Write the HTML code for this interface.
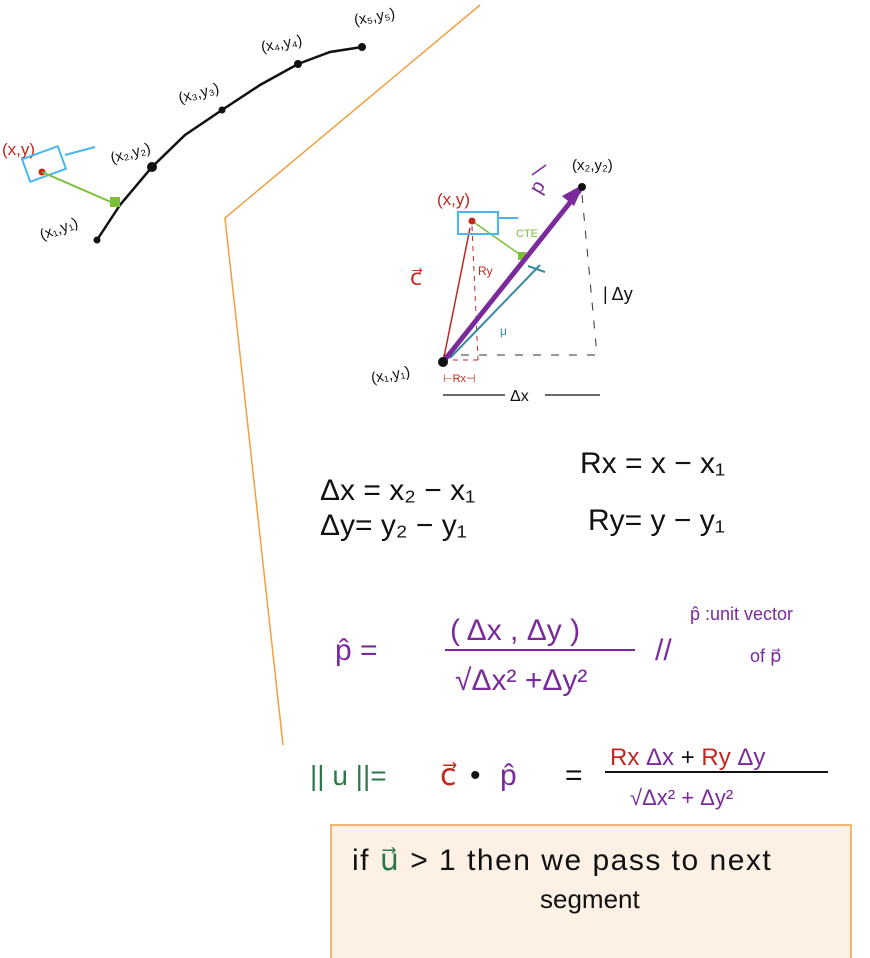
<!DOCTYPE html>
<html><head><meta charset="utf-8"><style>
html,body{margin:0;padding:0;background:#fff;}
svg{display:block;}
text{font-family:"Liberation Sans",sans-serif;}
</style></head><body>
<svg width="870" height="958" viewBox="0 0 870 958">
<polyline points="480,5 225,218 283,745" fill="none" stroke="#f0a040" stroke-width="1.5"/>

<g>
<polyline points="97,240 120,205 152,167 185,135 222,110 260,85 298,64 330,52 362,47" fill="none" stroke="#111" stroke-width="2.5"/>
<circle cx="97" cy="240" r="3.5" fill="#111"/><circle cx="152" cy="167" r="5" fill="#111"/><circle cx="222" cy="110" r="3.5" fill="#111"/><circle cx="298" cy="64" r="4" fill="#111"/><circle cx="362" cy="47" r="4" fill="#111"/>
<text x="42" y="240" font-size="15" transform="rotate(-20 42 240)" fill="#111">(x₁,y₁)</text>
<text x="112" y="163" font-size="15" transform="rotate(-15 112 163)" fill="#111">(x₂,y₂)</text>
<text x="180" y="103" font-size="15" transform="rotate(-15 180 103)" fill="#111">(x₃,y₃)</text>
<text x="262" y="52" font-size="15" transform="rotate(-10 262 52)" fill="#111">(x₄,y₄)</text>
<text x="355" y="25" font-size="15" transform="rotate(-10 355 25)" fill="#111">(x₅,y₅)</text>
<text x="2" y="155" font-size="17" fill="#c0281e">(x,y)</text>
<rect x="25" y="152" width="38" height="24" fill="none" stroke="#4ab6ee" stroke-width="2" transform="rotate(-20 44 164)"/>
<line x1="65" y1="155" x2="95" y2="147" stroke="#4ab6ee" stroke-width="2"/>
<circle cx="42" cy="172" r="3.5" fill="#c0281e"/>
<line x1="42" y1="172" x2="120" y2="206" stroke="#7cbf3a" stroke-width="2"/>
<rect x="110" y="197" width="10" height="10" fill="#7cbf3a"/>
</g>

<g>
<line x1="582" y1="195" x2="597" y2="355" stroke="#333" stroke-width="1" stroke-dasharray="8,10"/>
<line x1="443" y1="355" x2="597" y2="355" stroke="#333" stroke-width="1" stroke-dasharray="8,10"/>
<line x1="472" y1="226" x2="478" y2="360" stroke="#c0281e" stroke-width="1" stroke-dasharray="5,5"/>
<line x1="478" y1="360" x2="443" y2="360" stroke="#c0281e" stroke-width="1" stroke-dasharray="5,5"/>
<line x1="443" y1="362" x2="470" y2="228" stroke="#c0281e" stroke-width="1.5"/>
<line x1="450" y1="358" x2="540" y2="265" stroke="#3a8aa0" stroke-width="2"/>
<line x1="528" y1="266" x2="545" y2="272" stroke="#3a8aa0" stroke-width="2"/>
<line x1="472" y1="221" x2="525" y2="258" stroke="#7cbf3a" stroke-width="1.5"/>
<rect x="518" y="252" width="8" height="8" fill="#7cbf3a"/>
<line x1="443" y1="362" x2="580" y2="190" stroke="#7a2a9a" stroke-width="5"/>
<polygon points="584,184 562,196 574,206" fill="#7a2a9a"/>
<circle cx="443" cy="362" r="5" fill="#111"/>
<circle cx="582" cy="187" r="4" fill="#111"/>
<rect x="458" y="212" width="40" height="22" fill="none" stroke="#4ab6ee" stroke-width="2"/>
<line x1="498" y1="218" x2="518" y2="218" stroke="#4ab6ee" stroke-width="2"/>
<circle cx="472" cy="221" r="3.5" fill="#c0281e"/>
<text x="437" y="205" font-size="17" fill="#c0281e">(x,y)</text>
<text x="572" y="170" font-size="15" fill="#111">(x₂,y₂)</text>
<text x="540" y="195" font-size="20" fill="#7a2a9a" transform="rotate(-60 540 195)">p</text>
<line x1="532" y1="175" x2="546" y2="165" stroke="#7a2a9a" stroke-width="1.5"/>
<text x="410" y="285" font-size="22" fill="#c0281e">c⃗</text>
<text x="478" y="275" font-size="12" fill="#c0281e">Ry</text>
<text x="516" y="237" font-size="11" fill="#7cbf3a">CTE</text>
<text x="500" y="335" font-size="12" fill="#3a8aa0">μ</text>
<text x="372" y="383" font-size="15" fill="#111" transform="rotate(-10 372 383)">(x₁,y₁)</text>
<text x="443" y="382" font-size="11" fill="#c0281e">⊢Rx⊣</text>
<text x="603" y="300" font-size="18" fill="#111">| Δy</text>
<line x1="443" y1="395" x2="600" y2="395" stroke="#111" stroke-width="1.2"/>
<rect x="505" y="385" width="40" height="18" fill="#fff"/>
<text x="510" y="401" font-size="16" fill="#111">Δx</text>
</g>

<g font-size="30">
<text x="320" y="500" fill="#111">Δx = x₂ − x₁</text>
<text x="580" y="473" fill="#111">Rx = x − x₁</text>
<text x="320" y="535" fill="#111">Δy= y₂ − y₁</text>
<text x="588" y="530" fill="#111">Ry= y − y₁</text>
<text x="335" y="660" fill="#7a2a9a">p̂ =</text>
<text x="450" y="640" fill="#7a2a9a">( Δx , Δy )</text>
<line x1="445" y1="650" x2="635" y2="650" stroke="#7a2a9a" stroke-width="2"/>
<text x="455" y="690" fill="#7a2a9a">√Δx² +Δy²</text>
<text x="655" y="660" fill="#7a2a9a">//</text>
<text x="690" y="620" font-size="18" fill="#7a2a9a">p̂ :unit vector</text>
<text x="750" y="662" font-size="18" fill="#7a2a9a">of p⃗</text>
<text x="310" y="785" font-size="28" fill="#2a7a4a">|| u ||=</text>
<text x="440" y="785" fill="#c0281e">c⃗</text>
<text x="470" y="785" fill="#111">•</text>
<text x="500" y="785" fill="#7a2a9a">p̂</text>
<text x="565" y="785" fill="#111">=</text>
<text x="610" y="765" font-size="24" fill="#c0281e">Rx <tspan fill="#7a2a9a">Δx</tspan><tspan fill="#111"> + </tspan>Ry <tspan fill="#7a2a9a">Δy</tspan></text>
<line x1="605" y1="772" x2="828" y2="772" stroke="#111" stroke-width="2"/>
<text x="630" y="805" font-size="22" fill="#7a2a9a">√Δx² + Δy²</text>
</g>

<g>
<rect x="331" y="825" width="520" height="140" fill="#fdf0e4" stroke="#f0a040" stroke-width="1.5"/>
<text x="352" y="870" font-size="30" letter-spacing="1.5" fill="#111">if <tspan fill="#2a7a4a">u⃗</tspan> &gt; 1  then we pass to next</text>
<text x="540" y="908" font-size="26" fill="#111">segment</text>
</g>
</svg>
</body></html>
